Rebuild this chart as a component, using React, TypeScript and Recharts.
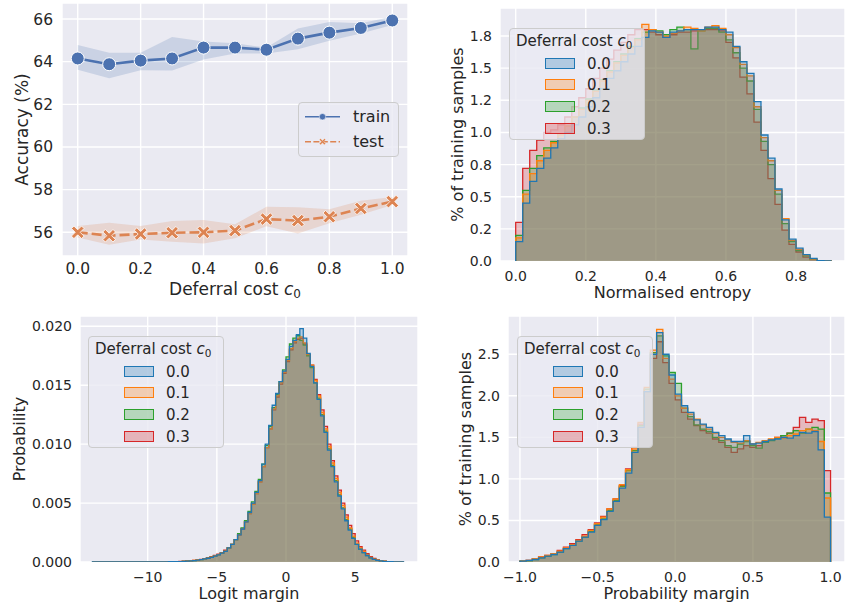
import React from 'react';
import { ComposedChart, Area, Line, XAxis, YAxis, CartesianGrid, Legend } from 'recharts';

const FONT = "'DejaVu Sans', 'Liberation Sans', sans-serif";
const TXT = '#262626';
const PANEL_BG = '#EAEAF2';
const TRAIN_C = '#4c72b0';
const TEST_C = '#dd8452';

// ---------- Accuracy panel ----------
const costs = [0, 0.1, 0.2, 0.3, 0.4, 0.5, 0.6, 0.7, 0.8, 0.9, 1.0];
const trainAcc = [64.15, 63.88, 64.05, 64.15, 64.66, 64.66, 64.56, 65.08, 65.36, 65.58, 65.93];
const trainLow = [63.62, 63.22, 63.6, 63.58, 64.1, 64.38, 64.38, 64.58, 64.98, 65.32, 65.72];
const trainHigh = [64.78, 64.42, 64.42, 65.16, 64.95, 64.86, 64.66, 65.56, 65.86, 65.8, 66.1];
const testAcc = [56.0, 55.84, 55.92, 55.98, 56.0, 56.08, 56.62, 56.55, 56.73, 57.12, 57.44];
const testLow = [55.76, 55.42, 55.66, 55.56, 55.48, 55.72, 56.28, 55.95, 56.42, 56.82, 57.28];
const testHigh = [56.3, 56.45, 56.3, 56.53, 56.58, 56.38, 57.2, 57.17, 57.08, 57.48, 57.66];
const costTicks = [0, 0.2, 0.4, 0.6, 0.8, 1.0];
const accTicks = [56, 58, 60, 62, 64, 66];
const seriesNamesAcc = ['train', 'test'];

// ---------- Histogram series ----------
const hueLabels = ['0.0', '0.1', '0.2', '0.3'];
const hueColors = ['#1f77b4', '#ff7f0e', '#2ca02c', '#d62728'];

// Normalised entropy: bins of 0.02 starting at 0
const entropyStart = 0;
const entropyBin = 0.02;
const entropy00 = [0.15, 0.45, 0.62, 0.72, 0.8, 0.88, 0.95, 1.0, 1.06, 1.12, 1.2, 1.27, 1.34, 1.42, 1.48, 1.55, 1.61, 1.67, 1.74, 1.79, 1.78, 1.74, 1.78, 1.79, 1.8, 1.8, 1.8, 1.82, 1.82, 1.8, 1.78, 1.67, 1.55, 1.46, 1.24, 0.98, 0.8, 0.56, 0.32, 0.17, 0.1, 0.05, 0.02, 0.003, 0.001];
const entropy01 = [0.18, 0.52, 0.68, 0.78, 0.86, 0.92, 0.98, 1.05, 1.12, 1.18, 1.25, 1.32, 1.4, 1.47, 1.54, 1.6, 1.66, 1.72, 1.84, 1.8, 1.78, 1.75, 1.77, 1.79, 1.82, 1.81, 1.79, 1.82, 1.83, 1.81, 1.76, 1.66, 1.53, 1.44, 1.2, 0.96, 0.78, 0.55, 0.33, 0.16, 0.09, 0.045, 0.015, 0.003, 0.001];
const entropy02 = [0.2, 0.55, 0.72, 0.82, 0.88, 0.93, 0.99, 1.05, 1.12, 1.19, 1.26, 1.33, 1.41, 1.48, 1.55, 1.61, 1.67, 1.73, 1.78, 1.8, 1.79, 1.76, 1.8, 1.82, 1.8, 1.65, 1.79, 1.81, 1.81, 1.78, 1.72, 1.62, 1.5, 1.4, 1.18, 0.93, 0.75, 0.52, 0.29, 0.15, 0.08, 0.04, 0.012, 0.002, 0.001];
const entropy03 = [0.3, 0.72, 0.86, 0.94, 1.0, 1.02, 1.06, 1.12, 1.2, 1.27, 1.34, 1.42, 1.5, 1.57, 1.64, 1.7, 1.76, 1.8, 1.8, 1.78, 1.76, 1.74, 1.76, 1.78, 1.78, 1.79, 1.8, 1.8, 1.8, 1.79, 1.7, 1.58, 1.43, 1.3, 1.08, 0.86, 0.64, 0.44, 0.24, 0.13, 0.07, 0.03, 0.01, 0.002, 0.0005];
const entropyTicks = [0, 0.2, 0.4, 0.6, 0.8];
const entropyYTicks = [0, 0.25, 0.5, 0.75, 1, 1.25, 1.5, 1.75];
const entropyYLabels = ['0.0', '0.2', '0.5', '0.8', '1.0', '1.2', '1.5', '1.8'];

// Logit margin: bins of 0.25 starting at -14
const logitStart = -14;
const logitBin = 0.25;
const logit00 = [
  0.00001, 0.00001, 0.00001, 0.00001, 0.00001, 0.00001, 0.00001, 0.00001, 0.00001, 0.00001, 0.00001, 0.00001,
  0.00001, 0.00001, 0.00001, 0.00001, 0.00001, 0.00001, 0.00001, 0.00001, 0.00001, 0.00001, 0.00002, 0.00002,
  0.00003, 0.00004, 0.00005, 0.00007, 0.00009, 0.00012, 0.00016, 0.0002, 0.00026, 0.00032,
  0.0004, 0.0005, 0.0006, 0.00075, 0.0009, 0.0012, 0.0015, 0.0019, 0.0023, 0.0028,
  0.0034, 0.0042, 0.005, 0.0059, 0.0069, 0.0083, 0.01, 0.0116, 0.0133, 0.0143,
  0.0153, 0.0162, 0.0172, 0.0183, 0.0188, 0.0193, 0.0198, 0.019, 0.0177, 0.0166,
  0.0152, 0.0138, 0.0124, 0.011, 0.0095, 0.0081, 0.0068, 0.0056, 0.0045, 0.0035,
  0.0027, 0.002, 0.0015, 0.0011, 0.0008, 0.00055, 0.00035, 0.00022, 0.00014, 0.00009,
  0.00006, 0.00004, 0.00002, 0.00001, 0.00001, 0.00001,
];
const logit01 = [
  0, 0, 0, 0, 0, 0, 0, 0, 0, 0, 0, 0,
  0, 0, 0, 0, 0, 0, 0.00001, 0.00001, 0.00001, 0.00001, 0.00002, 0.00002,
  0.00003, 0.00004, 0.00006, 0.00008, 0.0001, 0.00013, 0.00017, 0.00021, 0.00027, 0.00033,
  0.00041, 0.0005, 0.0006, 0.00075, 0.0009, 0.0012, 0.0015, 0.0019, 0.0023, 0.0028,
  0.0034, 0.0041, 0.0049, 0.0058, 0.0068, 0.0081, 0.0097, 0.0113, 0.013, 0.0141,
  0.0152, 0.0161, 0.0171, 0.0181, 0.0187, 0.019, 0.0191, 0.0186, 0.0176, 0.0167,
  0.0154, 0.0141, 0.0127, 0.0113, 0.0098, 0.0084, 0.0071, 0.0059, 0.0048, 0.0038,
  0.0029, 0.0022, 0.0016, 0.0012, 0.0009, 0.0006, 0.0004, 0.00025, 0.00016, 0.0001,
  0.00007, 0.00004, 0.00002, 0.00001, 0.00001, 0,
];
const logit02 = [
  0, 0, 0, 0, 0, 0, 0, 0, 0, 0, 0, 0,
  0, 0, 0, 0, 0, 0, 0, 0.00001, 0.00001, 0.00001, 0.00002, 0.00002,
  0.00003, 0.00004, 0.00005, 0.00007, 0.00009, 0.00012, 0.00016, 0.0002, 0.00026, 0.00032,
  0.0004, 0.0005, 0.0006, 0.00075, 0.0009, 0.0012, 0.0015, 0.0019, 0.0024, 0.0029,
  0.0035, 0.0043, 0.0051, 0.006, 0.007, 0.0083, 0.0099, 0.0115, 0.0131, 0.0142,
  0.0153, 0.0163, 0.0174, 0.0185, 0.019, 0.0192, 0.0188, 0.0184, 0.0175, 0.0165,
  0.0152, 0.0139, 0.0125, 0.0111, 0.0096, 0.0082, 0.0069, 0.0057, 0.0046, 0.0036,
  0.0028, 0.0021, 0.0015, 0.0011, 0.0008, 0.00055, 0.00035, 0.00022, 0.00014, 0.00009,
  0.00006, 0.00004, 0.00002, 0.00001, 0.00001, 0,
];
const logit03 = [
  0, 0, 0, 0, 0, 0, 0, 0, 0, 0, 0, 0,
  0, 0, 0, 0, 0, 0, 0.00001, 0.00001, 0.00001, 0.00002, 0.00002, 0.00003,
  0.00004, 0.00005, 0.00007, 0.00009, 0.00011, 0.00014, 0.00018, 0.00023, 0.00029, 0.00036,
  0.00045, 0.00055, 0.00066, 0.0008, 0.001, 0.0012, 0.0015, 0.0019, 0.0023, 0.0028,
  0.0034, 0.0041, 0.0049, 0.0058, 0.0068, 0.0081, 0.0097, 0.0113, 0.0129, 0.014,
  0.0151, 0.016, 0.017, 0.018, 0.0186, 0.0189, 0.019, 0.0185, 0.0176, 0.0167,
  0.0155, 0.0142, 0.0129, 0.0115, 0.01, 0.0086, 0.0073, 0.0061, 0.005, 0.004,
  0.0031, 0.0024, 0.0018, 0.0013, 0.001, 0.0007, 0.00045, 0.0003, 0.00018, 0.00011,
  0.00007, 0.00004, 0.00002, 0.00001, 0.00001, 0,
];
const logitTicks = [-10, -5, 0, 5];
const logitYTicks = [0, 0.005, 0.01, 0.015, 0.02];

// Probability margin: bins of 0.04 starting at -1
const probStart = -1;
const probBin = 0.04;
const prob00 = [0.01, 0.02, 0.03, 0.05, 0.07, 0.09, 0.12, 0.16, 0.2, 0.25, 0.3, 0.36, 0.44, 0.51, 0.61, 0.73, 0.89, 1.07, 1.32, 1.62, 2.05, 2.5, 2.76, 2.5, 2.25, 2.02, 1.88, 1.8, 1.71, 1.66, 1.62, 1.56, 1.52, 1.48, 1.45, 1.45, 1.52, 1.42, 1.43, 1.45, 1.47, 1.48, 1.5, 1.49, 1.52, 1.56, 1.55, 1.57, 1.35, 0.54];
const prob01 = [0.01, 0.02, 0.04, 0.06, 0.08, 0.1, 0.13, 0.17, 0.21, 0.26, 0.31, 0.38, 0.46, 0.54, 0.64, 0.76, 0.93, 1.11, 1.36, 1.68, 2.1, 2.55, 2.8, 2.45, 2.2, 2.0, 1.85, 1.78, 1.72, 1.65, 1.6, 1.55, 1.5, 1.47, 1.44, 1.43, 1.46, 1.42, 1.44, 1.46, 1.48, 1.5, 1.49, 1.52, 1.54, 1.58, 1.6, 1.58, 1.45, 0.77];
const prob02 = [0.01, 0.015, 0.03, 0.05, 0.07, 0.09, 0.12, 0.16, 0.2, 0.25, 0.3, 0.37, 0.45, 0.52, 0.62, 0.74, 0.91, 1.1, 1.34, 1.64, 2.08, 2.52, 2.72, 2.48, 2.28, 2.15, 1.85, 1.75, 1.65, 1.6, 1.57, 1.5, 1.46, 1.4, 1.38, 1.42, 1.45, 1.4, 1.37, 1.44, 1.46, 1.49, 1.52, 1.55, 1.58, 1.55, 1.6, 1.62, 1.6, 0.83];
const prob03 = [0.01, 0.02, 0.04, 0.06, 0.08, 0.1, 0.14, 0.18, 0.22, 0.27, 0.33, 0.39, 0.47, 0.55, 0.64, 0.76, 0.92, 1.12, 1.38, 1.66, 2.05, 2.45, 2.65, 2.4, 2.15, 1.95, 1.8, 1.72, 1.64, 1.58, 1.55, 1.48, 1.44, 1.38, 1.32, 1.36, 1.4, 1.38, 1.4, 1.44, 1.47, 1.5, 1.52, 1.55, 1.62, 1.74, 1.68, 1.72, 1.7, 1.1];
const probTicks = [-1, -0.5, 0, 0.5, 1];
const probYTicks = [0, 0.5, 1, 1.5, 2, 2.5];

// ---------- helpers ----------
const uminus = (s: string) => s.replace('-', '\u2212');

function stepRows(start: number, width: number, series: number[][]) {
  const n = series[0].length;
  const rows: any[] = [];
  const make = (x: number, f: (s: number[]) => number) => {
    const r: any = { x };
    series.forEach((s, k) => (r['s' + k] = f(s)));
    return r;
  };
  rows.push(make(start, () => 0));
  for (let i = 0; i < n; i++) rows.push(make(start + i * width, (s) => s[i]));
  rows.push(make(start + n * width, (s) => s[n - 1]));
  rows.push(make(start + n * width, () => 0));
  return rows;
}

function rgba(hex: string, a: number) {
  const n = parseInt(hex.slice(1), 16);
  return `rgba(${n >> 16},${(n >> 8) & 255},${n & 255},${a})`;
}

const accData = costs.map((c, i) => ({
  x: c,
  train: trainAcc[i],
  trainBand: [trainLow[i], trainHigh[i]],
  test: testAcc[i],
  testBand: [testLow[i], testHigh[i]],
}));
const entropyRows = stepRows(entropyStart, entropyBin, [entropy00, entropy01, entropy02, entropy03]);
const logitRows = stepRows(logitStart, logitBin, [logit00, logit01, logit02, logit03]);
const probRows = stepRows(probStart, probBin, [prob00, prob01, prob02, prob03]);

const C0 = () => (
  <>
    <span style={{ fontStyle: 'italic' }}>c</span>
    <span style={{ fontSize: '0.7em', position: 'relative', top: '0.3em' }}>0</span>
  </>
);

const XLabel = ({ lx, ly, size, children }: any) => (
  <text x={lx} y={ly} textAnchor="middle" fill={TXT} fontSize={size} fontFamily={FONT}>
    {children}
  </text>
);
const YLabel = ({ lx, ly, size, text }: any) => (
  <text
    x={lx}
    y={ly}
    transform={`rotate(-90, ${lx}, ${ly})`}
    textAnchor="middle"
    dominantBaseline="central"
    fill={TXT}
    fontSize={size}
    fontFamily={FONT}
  >
    {text}
  </text>
);

const boxStyle = (w: number, h: number): React.CSSProperties => ({
  position: 'relative',
  width: w,
  height: h,
  boxSizing: 'border-box',
  background: 'rgba(234,234,242,0.8)',
  border: '1px solid #cccccc',
  borderRadius: 4,
  fontFamily: FONT,
  color: TXT,
});

const legendRowsY = [34.5, 56, 77.8, 99.5];

const HistLegend = () => (
  <div style={boxStyle(136, 112)}>
    <div style={{ position: 'absolute', left: 6, top: 3, fontSize: 15, lineHeight: '18px', whiteSpace: 'nowrap' }}>
      Deferral cost <C0 />
    </div>
    {hueLabels.map((h, k) => (
      <React.Fragment key={h}>
        <div
          style={{
            position: 'absolute',
            left: 35,
            top: legendRowsY[k] - 6,
            width: 30,
            height: 11,
            boxSizing: 'border-box',
            background: rgba(hueColors[k], 0.28),
            border: `1.3px solid ${hueColors[k]}`,
          }}
        />
        <div style={{ position: 'absolute', left: 77, top: legendRowsY[k] - 9, fontSize: 15, lineHeight: '18px' }}>{h}</div>
      </React.Fragment>
    ))}
  </div>
);

const xPts = (cx: number, cy: number, r: number, t: number) =>
  [
    [-r, -r + t], [-r + t, -r], [0, -t], [r - t, -r], [r, -r + t], [t, 0],
    [r, r - t], [r - t, r], [0, t], [-r + t, r], [-r, r - t], [-t, 0],
  ]
    .map(([dx, dy]) => `${cx + dx},${cy + dy}`)
    .join(' ');

const XMark = (props: any) => {
  const { cx, cy, index } = props;
  if (cx == null || cy == null) return <g key={`xm-${index}`} />;
  return <polygon key={`xm-${index}`} points={xPts(cx, cy, 6.3, 2.5)} fill={TEST_C} stroke="#ffffff" strokeWidth={0.8} />;
};

const AccLegend = () => (
  <div style={boxStyle(101, 55)}>
    <svg width={101} height={55} style={{ position: 'absolute', left: -1, top: -1 }}>
      <line x1={7} x2={42} y1={14.7} y2={14.7} stroke={TRAIN_C} strokeWidth={1.6} />
      <circle cx={24.5} cy={14.7} r={3.2} fill={TRAIN_C} stroke="#ffffff" strokeWidth={0.5} />
      <line x1={7} x2={42} y1={39.7} y2={39.7} stroke={TEST_C} strokeWidth={1.6} strokeDasharray="6 2.4" />
      <polygon points={xPts(24.5, 39.7, 3.2, 1.3)} fill={TEST_C} stroke="#ffffff" strokeWidth={0.4} />
    </svg>
    {seriesNamesAcc.map((s, i) => (
      <div key={s} style={{ position: 'absolute', left: 54, top: (i === 0 ? 14.7 : 39.7) - 11, fontSize: 16, lineHeight: '20px' }}>
        {s}
      </div>
    ))}
  </div>
);

type HistProps = {
  left: number;
  top: number;
  width: number;
  height: number;
  margin: { top: number; right: number; left: number; bottom: number };
  yAxisWidth: number;
  xAxisHeight: number;
  rows: any[];
  xDomain: [number, number];
  xTicks: number[];
  xFmt: (v: number, i: number) => string;
  yDomain: [number, number];
  yTicks: number[];
  yFmt: (v: number, i: number) => string;
  xLabel: string;
  yLabel: string;
  xLabelCx: number;
  xLabelY: number;
  yLabelCx: number;
  yLabelCy: number;
  legendX: number;
  legendY: number;
};

// seaborn draws the last hue level first, so the 0.0 layer ends on top
const drawOrder = [3, 2, 1, 0];

function HistPanel(p: HistProps) {
  const tickStyle = { fill: TXT, fontSize: 14, fontFamily: FONT };
  return (
    <div style={{ position: 'absolute', left: p.left, top: p.top }}>
      <ComposedChart width={p.width} height={p.height} data={p.rows} margin={p.margin}>
        <CartesianGrid stroke="#ffffff" strokeWidth={1.4} fill={PANEL_BG} fillOpacity={1} />
        <XAxis
          type="number"
          dataKey="x"
          domain={p.xDomain}
          allowDataOverflow
          ticks={p.xTicks}
          interval={0}
          tickFormatter={p.xFmt}
          axisLine={false}
          tickLine={false}
          tickSize={0}
          tickMargin={10}
          height={p.xAxisHeight}
          tick={tickStyle}
          label={<XLabel lx={p.xLabelCx} ly={p.xLabelY} size={16}>{p.xLabel}</XLabel>}
        />
        <YAxis
          type="number"
          domain={p.yDomain}
          allowDataOverflow
          ticks={p.yTicks}
          interval={0}
          tickFormatter={p.yFmt}
          axisLine={false}
          tickLine={false}
          tickSize={0}
          tickMargin={8}
          width={p.yAxisWidth}
          tick={tickStyle}
          label={<YLabel lx={p.yLabelCx} ly={p.yLabelCy} size={16} text={p.yLabel} />}
        />
        {drawOrder.map((k) => (
          <Area
            key={hueLabels[k]}
            type="stepAfter"
            dataKey={'s' + k}
            stroke={hueColors[k]}
            strokeWidth={1.3}
            fill={hueColors[k]}
            fillOpacity={0.25}
            baseValue={0}
            isAnimationActive={false}
            dot={false}
            activeDot={false}
          />
        ))}
        <Legend
          layout="vertical"
          align="center"
          verticalAlign="middle"
          wrapperStyle={{ left: p.legendX, top: p.legendY, width: 'auto', height: 'auto', right: 'auto', bottom: 'auto' }}
          content={<HistLegend />}
        />
      </ComposedChart>
    </div>
  );
}

export default function App() {
  const accTick = { fill: TXT, fontSize: 15.5, fontFamily: FONT };
  return (
    <div style={{ position: 'absolute', left: 0, top: 0, width: 849, height: 604, background: '#ffffff', overflow: 'hidden' }}>
      {/* Top-left: accuracy */}
      <div style={{ position: 'absolute', left: 0, top: 0 }}>
        <ComposedChart width={420} height={310} data={accData} margin={{ top: 3, right: 12, left: 0, bottom: 0 }}>
          <CartesianGrid stroke="#ffffff" strokeWidth={1.4} fill={PANEL_BG} fillOpacity={1} />
          <XAxis
            type="number"
            dataKey="x"
            domain={[-0.05, 1.05]}
            allowDataOverflow
            ticks={costTicks}
            interval={0}
            tickFormatter={(v: number) => v.toFixed(1)}
            axisLine={false}
            tickLine={false}
            tickSize={0}
            tickMargin={7}
            height={54}
            tick={accTick}
            label={
              <XLabel lx={235} ly={295} size={17}>
                <tspan>Deferral cost </tspan>
                <tspan fontStyle="italic">c</tspan>
                <tspan fontSize={12} dy={3}>0</tspan>
              </XLabel>
            }
          />
          <YAxis
            type="number"
            domain={[54.89, 66.75]}
            allowDataOverflow
            ticks={accTicks}
            interval={0}
            axisLine={false}
            tickLine={false}
            tickSize={0}
            tickMargin={9}
            width={62}
            tick={accTick}
            label={<YLabel lx={21.7} ly={129.5} size={17} text="Accuracy (%)" />}
          />
          <Area type="linear" dataKey="trainBand" stroke="none" fill={TRAIN_C} fillOpacity={0.2} isAnimationActive={false} dot={false} activeDot={false} />
          <Area type="linear" dataKey="testBand" stroke="none" fill={TEST_C} fillOpacity={0.2} isAnimationActive={false} dot={false} activeDot={false} />
          <Line
            type="linear"
            dataKey="train"
            stroke={TRAIN_C}
            strokeWidth={2.6}
            dot={{ r: 6.5, fill: TRAIN_C, stroke: '#ffffff', strokeWidth: 1 }}
            activeDot={false}
            isAnimationActive={false}
          />
          <Line
            type="linear"
            dataKey="test"
            stroke={TEST_C}
            strokeWidth={2.6}
            strokeDasharray="10 4"
            dot={XMark}
            activeDot={false}
            isAnimationActive={false}
          />
          <Legend
            layout="vertical"
            align="center"
            verticalAlign="middle"
            wrapperStyle={{ left: 298, top: 102, width: 'auto', height: 'auto', right: 'auto', bottom: 'auto' }}
            content={<AccLegend />}
          />
        </ComposedChart>
      </div>

      {/* Top-right: normalised entropy */}
      <HistPanel
        left={420}
        top={0}
        width={429}
        height={310}
        margin={{ top: 8, right: 4, left: 0, bottom: 0 }}
        yAxisWidth={80}
        xAxisHeight={49}
        rows={entropyRows}
        xDomain={[-0.0448, 0.9398]}
        xTicks={entropyTicks}
        xFmt={(v) => v.toFixed(1)}
        yDomain={[0, 1.968]}
        yTicks={entropyYTicks}
        yFmt={(_v, i) => entropyYLabels[i]}
        xLabel="Normalised entropy"
        yLabel="% of training samples"
        xLabelCx={252.5}
        xLabelY={298.4}
        yLabelCx={37.3}
        yLabelCy={134.5}
        legendX={89}
        legendY={28}
      />

      {/* Bottom-left: logit margin */}
      <HistPanel
        left={0}
        top={290}
        width={420}
        height={314}
        margin={{ top: 26, right: 2, left: 0, bottom: 0 }}
        yAxisWidth={80}
        xAxisHeight={42}
        rows={logitRows}
        xDomain={[-14.895, 9.544]}
        xTicks={logitTicks}
        xFmt={(v) => uminus(String(v))}
        yDomain={[0, 0.020874]}
        yTicks={logitYTicks}
        yFmt={(v) => v.toFixed(3)}
        xLabel="Logit margin"
        yLabel="Probability"
        xLabelCx={249}
        xLabelY={309.4}
        yLabelCx={19}
        yLabelCy={149}
        legendX={88}
        legendY={46}
      />

      {/* Bottom-right: probability margin */}
      <HistPanel
        left={420}
        top={290}
        width={429}
        height={314}
        margin={{ top: 26, right: 4, left: 0, bottom: 0 }}
        yAxisWidth={88}
        xAxisHeight={42}
        rows={probRows}
        xDomain={[-1.077, 1.093]}
        xTicks={probTicks}
        xFmt={(v) => uminus(v.toFixed(1))}
        yDomain={[0, 2.96]}
        yTicks={probYTicks}
        yFmt={(v) => v.toFixed(1)}
        xLabel="Probability margin"
        yLabel="% of training samples"
        xLabelCx={256.5}
        xLabelY={309.4}
        yLabelCx={45}
        yLabelCy={149}
        legendX={97}
        legendY={46}
      />
    </div>
  );
}
